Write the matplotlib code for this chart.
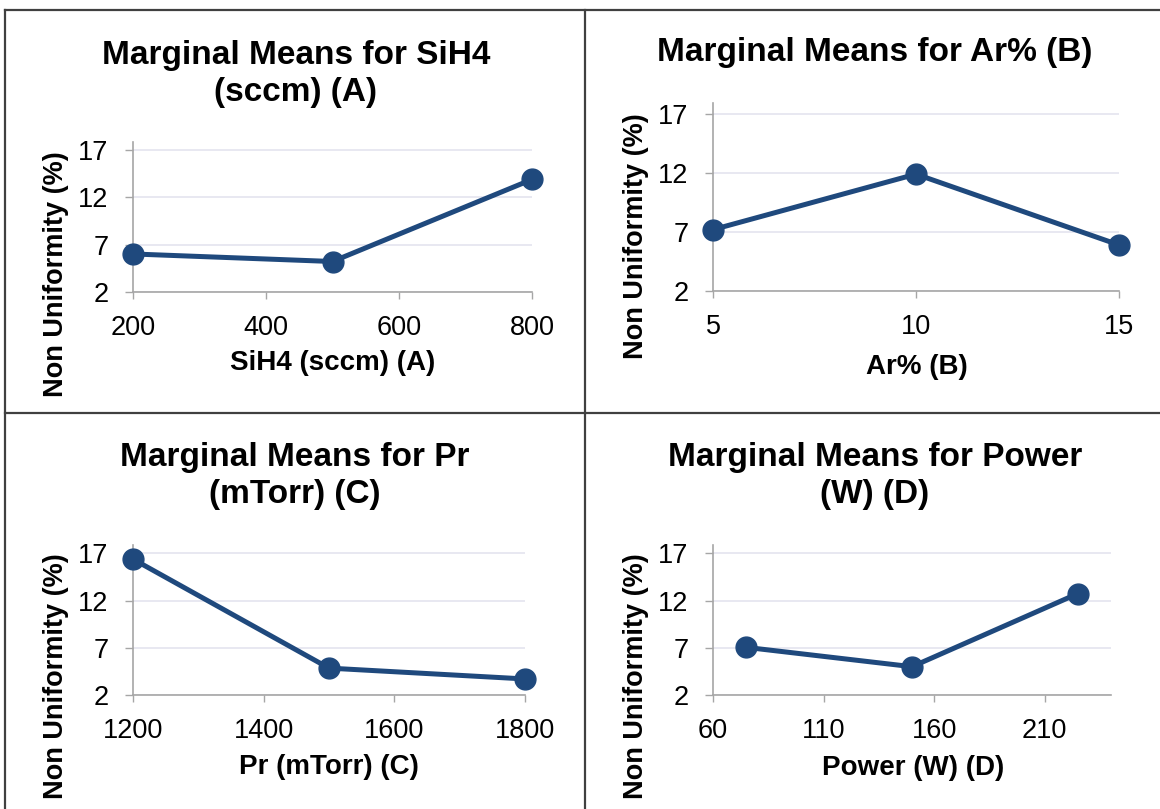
import matplotlib.pyplot as plt
from matplotlib.lines import Line2D

plt.rcParams['font.family'] = ['Liberation Sans', 'DejaVu Sans']

W, H = 1160, 809

colors = {
    "line": "#1f497d",
    "grid": "#e4e4ef",
    "axis": "#a6a6a6",
    "border": "#404040",
}

# data
sih4_x = [200, 500, 800]
sih4_y = [6.0, 5.2, 13.9]
ar_x = [5, 10, 15]
ar_y = [7.2, 11.9, 5.9]
pr_x = [1200, 1500, 1800]
pr_y = [16.4, 4.85, 3.7]
power_x = [75, 150, 225]
power_y = [7.05, 5.0, 12.75]

titles = ["Marginal Means for SiH4\n(sccm) (A)", "Marginal Means for Ar% (B)",
          "Marginal Means for Pr\n(mTorr) (C)", "Marginal Means for Power\n(W) (D)"]
xlabels = ["SiH4 (sccm) (A)", "Ar% (B)", "Pr (mTorr) (C)", "Power (W) (D)"]
xticks = [[200, 400, 600, 800], [5, 10, 15], [1200, 1400, 1600, 1800], [60, 110, 160, 210]]
xlims = [(200, 800), (5, 15), (1200, 1800), (60, 240)]
yticks = [2, 7, 12, 17]

fig = plt.figure(figsize=(W / 100, H / 100), dpi=100)


def px(x0, y_top, x1, y_bot):
    return [x0 / W, 1 - y_bot / H, (x1 - x0) / W, (y_bot - y_top) / H]


# left, top, right, bottom of plot areas in pixels
rects = [px(133, 141.7, 532, 291.7), px(713, 103.3, 1119, 291),
         px(133, 545, 525, 695), px(713, 545, 1111, 695)]
title_pos = [(296, 74), (875, 52), (295, 476), (875, 476)]
xlabel_pos = [(333, 363), (917, 367), (329, 767), (913, 768)]
ylabel_pos = [(56, 274), (636, 236), (56, 676), (636, 676)]

series = [(sih4_x, sih4_y), (ar_x, ar_y), (pr_x, pr_y), (power_x, power_y)]

for i, (xs, ys) in enumerate(series):
    ax = fig.add_axes(rects[i])
    ax.plot(xs, ys, color=colors["line"], lw=3.6, marker="o", ms=15,
            clip_on=False, zorder=3)
    ax.set_xlim(*xlims[i])
    ax.set_ylim(2, 17.9)
    ax.set_xticks(xticks[i])
    ax.set_yticks(yticks)
    ax.grid(axis="y", color=colors["grid"], lw=1.2)
    ax.set_axisbelow(True)
    for s in ["top", "right"]:
        ax.spines[s].set_visible(False)
    for s in ["left", "bottom"]:
        ax.spines[s].set_color(colors["axis"])
        ax.spines[s].set_linewidth(1.2)
    ax.tick_params(axis="both", colors=colors["axis"], labelcolor="black",
                   width=1, labelsize=19.5)
    ax.tick_params(axis="x", length=5, pad=11.5)
    ax.tick_params(axis="y", length=5.5, pad=12)

    tx, ty = title_pos[i]
    fig.text(tx / W, 1 - ty / H, titles[i], ha="center", va="center",
             fontsize=24, fontweight="bold", linespacing=1.23)
    lx, ly = xlabel_pos[i]
    fig.text(lx / W, 1 - ly / H, xlabels[i], ha="center", va="center",
             fontsize=20, fontweight="bold")
    yx, yy = ylabel_pos[i]
    fig.text(yx / W, 1 - yy / H, "Non Uniformity (%)", ha="center", va="center",
             rotation=90, fontsize=19.5, fontweight="bold")

# cell borders
for xd, yd in [([5, W], [10, 10]), ([5, 5], [10, H]), ([585, 585], [10, H]), ([5, W], [413, 413])]:
    fig.add_artist(Line2D([x / W for x in xd], [1 - y / H for y in yd],
                          color=colors["border"], lw=1.6))

fig.savefig("out.png", dpi=100)
